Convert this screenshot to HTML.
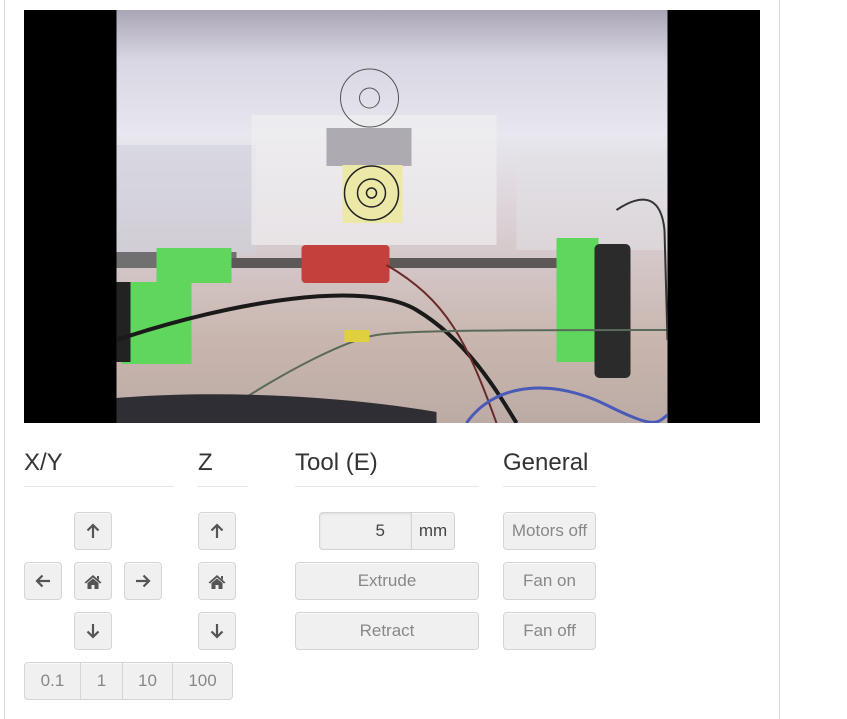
<!DOCTYPE html>
<html><head><meta charset="utf-8"><style>
*{box-sizing:border-box;margin:0;padding:0}
body{width:847px;height:713px;background:#fff;font-family:"Liberation Sans",sans-serif;position:relative;overflow:hidden}
.panel{position:absolute;left:4px;top:-1px;width:776px;height:720px;border-left:1px solid #ddd;border-right:1px solid #ddd}
.cam{position:absolute;left:24px;top:10px;width:736px;height:413px;background:#000}
.h{position:absolute;top:449px;font-size:24px;color:#333;line-height:28px;padding-bottom:8px;border-bottom:1px solid #e5e5e5;height:38px}
.b{position:absolute;height:38px;background:#f0f0f0;border:1px solid #d4d4d4;border-radius:4px;color:#888;font-size:17px;display:flex;align-items:center;justify-content:center;box-shadow:inset 0 1px 0 #fafafa}
.b svg{display:block}
.g{border-radius:0}
</style></head><body>
<div class="panel"></div>
<div class="cam">
<svg style="position:absolute;left:92px;top:0" width="552" height="413" viewBox="0 0 551 413">
<defs>
<linearGradient id="bg" x1="0" y1="0" x2="0" y2="1">
<stop offset="0" stop-color="#aaa5b6"/><stop offset="0.12" stop-color="#d8d6e2"/><stop offset="0.3" stop-color="#e8e7ef"/><stop offset="0.55" stop-color="#d8ccd0"/><stop offset="0.8" stop-color="#c8b6ae"/><stop offset="1" stop-color="#bcaaa5"/></linearGradient>
</defs>
<rect width="551" height="413" fill="url(#bg)"/>
<rect x="0" y="135" width="140" height="110" fill="#cfd0dc" opacity="0.6"/>
<rect x="400" y="140" width="151" height="100" fill="#e2e2e5" opacity="0.5"/>
<rect x="135" y="105" width="245" height="130" fill="#efeef0" opacity="0.7"/>
<rect x="210" y="118" width="85" height="38" fill="#7a7580" opacity="0.55"/>
<rect x="226" y="155" width="60" height="58" fill="#ece8a8"/>
<circle cx="255" cy="183" r="27" fill="none" stroke="#222" stroke-width="1.5"/>
<circle cx="255" cy="183" r="14" fill="none" stroke="#222" stroke-width="1.5"/>
<circle cx="255" cy="183" r="5" fill="none" stroke="#222" stroke-width="1.5"/>
<circle cx="253" cy="88" r="29" fill="none" stroke="#555" stroke-width="1"/>
<circle cx="253" cy="88" r="10" fill="none" stroke="#555"/>
<rect x="0" y="242" width="120" height="16" fill="#707070"/>
<rect x="100" y="248" width="355" height="10" fill="#5d5858"/>
<rect x="185" y="235" width="88" height="38" rx="4" fill="#c4403c"/>
<rect x="40" y="238" width="75" height="35" fill="#5fd65c"/>
<rect x="5" y="272" width="70" height="82" fill="#5fd65c"/>
<rect x="0" y="272" width="14" height="80" fill="#222"/>
<rect x="440" y="228" width="42" height="124" fill="#5fd65c"/>
<rect x="478" y="234" width="36" height="134" rx="5" fill="#2b2b2b"/>
<path d="M0 330 C120 290 250 270 300 300 S380 380 400 413" stroke="#1a1a1a" stroke-width="4" fill="none"/>
<path d="M270 255 C330 290 350 330 380 413" stroke="#6a2a2a" stroke-width="2" fill="none"/>
<path d="M110 400 C170 360 230 330 260 325 S400 320 551 320" stroke="#5a6a5a" stroke-width="2" fill="none"/>
<rect x="228" y="320" width="25" height="12" fill="#e0d040"/>
<path d="M0 388 C100 380 220 385 320 402 L320 413 L0 413Z" fill="#2e2e34"/>
<path d="M350 413 C380 370 440 370 490 395 S540 413 551 405" stroke="#4a5ab8" stroke-width="3" fill="none"/>
<path d="M500 200 C530 180 545 190 548 220 L551 330" stroke="#333" stroke-width="2" fill="none"/>
</svg>
</div>

<div class="h" style="left:24px;width:150px">X/Y</div>
<div class="h" style="left:198px;width:50px">Z</div>
<div class="h" style="left:295px;width:184px">Tool (E)</div>
<div class="h" style="left:503px;width:93px">General</div>

<div class="b" style="left:74px;top:512px;width:38px"><svg width="14" height="16" viewBox="0 0 14 16"><path d="M7 15V2M1.5 7.5L7 2l5.5 5.5" stroke="#555" stroke-width="2.2" fill="none"/></svg></div>
<div class="b" style="left:24px;top:562px;width:38px"><svg width="16" height="14" viewBox="0 0 16 14"><path d="M15 7H2M7.5 1.5L2 7l5.5 5.5" stroke="#555" stroke-width="2.2" fill="none"/></svg></div>
<div class="b" style="left:74px;top:562px;width:38px"><svg width="18" height="15" viewBox="0 0 18 15"><path d="M9 1L0.5 8.5 2 9.5 9 3.5 16 9.5 17.5 8.5Z M3.5 9L9 4.5 14.5 9V15H10.5V11H7.5V15H3.5Z M13 2h2v4l-2-1.7Z" fill="#555"/></svg></div>
<div class="b" style="left:124px;top:562px;width:38px"><svg width="16" height="14" viewBox="0 0 16 14"><path d="M1 7H14M8.5 1.5L14 7l-5.5 5.5" stroke="#555" stroke-width="2.2" fill="none"/></svg></div>
<div class="b" style="left:74px;top:612px;width:38px"><svg width="14" height="16" viewBox="0 0 14 16"><path d="M7 1V14M1.5 8.5L7 14l5.5-5.5" stroke="#555" stroke-width="2.2" fill="none"/></svg></div>

<div class="b" style="left:198px;top:512px;width:38px"><svg width="14" height="16" viewBox="0 0 14 16"><path d="M7 15V2M1.5 7.5L7 2l5.5 5.5" stroke="#555" stroke-width="2.2" fill="none"/></svg></div>
<div class="b" style="left:198px;top:562px;width:38px"><svg width="18" height="15" viewBox="0 0 18 15"><path d="M9 1L0.5 8.5 2 9.5 9 3.5 16 9.5 17.5 8.5Z M3.5 9L9 4.5 14.5 9V15H10.5V11H7.5V15H3.5Z M13 2h2v4l-2-1.7Z" fill="#555"/></svg></div>
<div class="b" style="left:198px;top:612px;width:38px"><svg width="14" height="16" viewBox="0 0 14 16"><path d="M7 1V14M1.5 8.5L7 14l5.5-5.5" stroke="#555" stroke-width="2.2" fill="none"/></svg></div>

<div class="b g" style="left:24px;top:662px;width:57px;border-radius:4px 0 0 4px;">0.1</div>
<div class="b g" style="left:80px;top:662px;width:43px">1</div>
<div class="b g" style="left:122px;top:662px;width:51px">10</div>
<div class="b g" style="left:172px;top:662px;width:61px;border-radius:0 4px 4px 0">100</div>

<div class="b" style="left:319px;top:512px;width:93px;border-radius:4px 0 0 4px;justify-content:flex-end;padding-right:26px;color:#444;box-shadow:inset 0 1px 2px rgba(0,0,0,.08)">5</div>
<div class="b" style="left:411px;top:512px;width:44px;border-radius:0 4px 4px 0;color:#444">mm</div>
<div class="b" style="left:295px;top:562px;width:184px">Extrude</div>
<div class="b" style="left:295px;top:612px;width:184px">Retract</div>

<div class="b" style="left:503px;top:512px;width:93px">Motors off</div>
<div class="b" style="left:503px;top:562px;width:93px">Fan on</div>
<div class="b" style="left:503px;top:612px;width:93px">Fan off</div>
</body></html>
